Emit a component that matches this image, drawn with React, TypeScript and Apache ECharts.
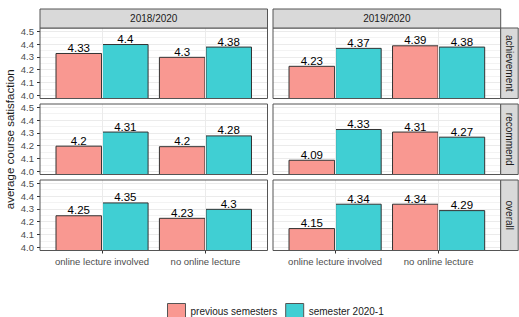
import React, { useEffect, useRef } from 'react';
import * as echarts from 'echarts';

const categories = ['online lecture involved', 'no online lecture'];
const periods = ['2018/2020', '2019/2020'];
const measures = ['achievement', 'recommend', 'overall'];
const seriesNames = ['previous semesters', 'semester 2020-1'];
const yTickMin = 4.0;
const yTickMax = 4.5;
const yTickStep = 0.1;

const prev1820Achievement = [4.33, 4.3];
const curr1820Achievement = [4.4, 4.38];
const prev1820Recommend = [4.2, 4.196];
const curr1820Recommend = [4.31, 4.28];
const prev1820Overall = [4.25, 4.23];
const curr1820Overall = [4.35, 4.3];
const prev1920Achievement = [4.23, 4.39];
const curr1920Achievement = [4.37, 4.38];
const prev1920Recommend = [4.09, 4.31];
const curr1920Recommend = [4.33, 4.27];
const prev1920Overall = [4.15, 4.34];
const curr1920Overall = [4.34, 4.29];

// [row][col] -> [prev, curr]
const facetData = [
  [[prev1820Achievement, curr1820Achievement], [prev1920Achievement, curr1920Achievement]],
  [[prev1820Recommend, curr1820Recommend], [prev1920Recommend, curr1920Recommend]],
  [[prev1820Overall, curr1820Overall], [prev1920Overall, curr1920Overall]],
];

const seriesColors = ['#F99891', '#40CFD3'];
const FONT = 'Liberation Sans, Arial, Helvetica, sans-serif';

const colLeft = [40, 273];
const colWidth = [227.5, 227.7];
const rowTop = [28, 104, 180];
const rowHeight = 70.5;
const stripTop = 9;
const stripH = 19;
const stripRightX = 500.7;
const stripRightW = 17.5;

function fmt(v: number) {
  return String(Math.round(v * 100) / 100);
}

export default function App() {
  const ref = useRef<HTMLDivElement>(null);
  useEffect(() => {
    if (!ref.current) return;
    const chart = echarts.init(ref.current, undefined, { renderer: 'svg' });
    const grids: any[] = [];
    const xAxes: any[] = [];
    const yAxes: any[] = [];
    const series: any[] = [];
    const graphics: any[] = [];
    const expandY = (yTickMax - yTickMin) * 0.05;
    const lo = yTickMin - expandY;
    const hi = yTickMax + expandY;

    for (let r = 0; r < 3; r++) {
      for (let c = 0; c < 2; c++) {
        const left = colLeft[c];
        const width = colWidth[c];
        const top = rowTop[r];
        const height = rowHeight;
        const padX = (width - width / 1.1) / 2;
        const insetY = (height * expandY) / (hi - lo);
        const gA = grids.length;
        grids.push({ left: left + padX, top, width: width - 2 * padX, height, containLabel: false });
        const gB = grids.length;
        grids.push({ left, top: top + insetY, width, height: height - 2 * insetY, containLabel: false });
        const bottomRow = r === 2;
        xAxes.push({
          type: 'category',
          gridIndex: gA,
          data: categories,
          axisLine: { show: false },
          axisTick: { show: bottomRow, alignWithLabel: true, length: 3, lineStyle: { color: '#333' } },
          axisLabel: {
            show: bottomRow,
            interval: 0,
            hideOverlap: false,
            color: '#4D4D4D',
            fontSize: 9.5,
            fontFamily: FONT,
            margin: 6,
          },
          splitLine: { show: false },
        });
        yAxes.push({ type: 'value', gridIndex: gA, min: lo, max: hi, show: false });
        xAxes.push({ type: 'category', gridIndex: gB, data: categories, show: false });
        yAxes.push({
          type: 'value',
          gridIndex: gB,
          min: yTickMin,
          max: yTickMax,
          interval: yTickStep,
          axisLine: { show: false },
          axisTick: { show: c === 0, length: 3, lineStyle: { color: '#333' } },
          axisLabel: {
            show: c === 0,
            color: '#4D4D4D',
            fontSize: 9.5,
            fontFamily: FONT,
            margin: 6,
            formatter: (v: number) => v.toFixed(1),
          },
          splitLine: { show: true, lineStyle: { color: '#EBEBEB', width: 1 } },
          minorTick: { show: false, splitNumber: 2 },
          minorSplitLine: { show: true, lineStyle: { color: '#F3F3F3', width: 1 } },
        });
        // vertical major grid lines at category centres
        series.push({
          type: 'line',
          name: 'grid',
          xAxisIndex: gA,
          yAxisIndex: gA,
          data: [],
          z: 1,
          silent: true,
          markLine: {
            silent: true,
            symbol: ['none', 'none'],
            label: { show: false },
            lineStyle: { color: '#EBEBEB', width: 1, type: 'solid' },
            emphasis: { disabled: true },
            data: categories.map((_, i) => ({ xAxis: i })),
          },
        });
        const vals = facetData[r][c];
        vals.forEach((arr, si) => {
          series.push({
            type: 'bar',
            name: seriesNames[si],
            xAxisIndex: gA,
            yAxisIndex: gA,
            data: arr,
            barWidth: '45%',
            barGap: '0%',
            z: 2,
            itemStyle: { color: seriesColors[si], borderColor: '#333', borderWidth: 1 },
            label: {
              show: true,
              position: 'top',
              distance: -1,
              color: '#000',
              fontSize: 11.5,
              fontFamily: FONT,
              formatter: (p: any) => fmt(p.value),
            },
            emphasis: { disabled: true },
          });
        });
        // panel border
        graphics.push({
          type: 'rect',
          shape: { x: left, y: top, width, height },
          style: { fill: 'none', stroke: '#555', lineWidth: 1 },
          z: 10,
          silent: true,
        });
      }
    }

    // top strips
    for (let c = 0; c < 2; c++) {
      graphics.push({
        type: 'rect',
        shape: { x: colLeft[c], y: stripTop, width: colWidth[c], height: stripH },
        style: { fill: '#D9D9D9', stroke: '#555', lineWidth: 1 },
        z: 10,
      });
      graphics.push({
        type: 'text',
        x: colLeft[c] + colWidth[c] / 2,
        y: stripTop + stripH / 2,
        style: { text: periods[c], fill: '#1A1A1A', fontSize: 10, fontFamily: FONT, align: 'center', verticalAlign: 'middle' },
        z: 11,
      });
    }
    // right strips
    for (let r = 0; r < 3; r++) {
      graphics.push({
        type: 'rect',
        shape: { x: stripRightX, y: rowTop[r], width: stripRightW, height: rowHeight },
        style: { fill: '#D9D9D9', stroke: '#555', lineWidth: 1 },
        z: 10,
      });
      graphics.push({
        type: 'text',
        x: stripRightX + stripRightW / 2,
        y: rowTop[r] + rowHeight / 2,
        rotation: -Math.PI / 2,
        style: { text: measures[r], fill: '#1A1A1A', fontSize: 10, fontFamily: FONT, align: 'center', verticalAlign: 'middle' },
        z: 11,
      });
    }
    // y title
    graphics.push({
      type: 'text',
      x: 10,
      y: (rowTop[0] + rowTop[2] + rowHeight) / 2,
      rotation: Math.PI / 2,
      style: { text: 'average course satisfaction', fill: '#1A1A1A', fontSize: 11.5, fontFamily: FONT, align: 'center', verticalAlign: 'middle' },
      z: 11,
    });

    chart.setOption({
      animation: false,
      backgroundColor: '#fff',
      grid: grids,
      xAxis: xAxes,
      yAxis: yAxes,
      series,
      legend: {
        data: seriesNames,
        left: 162,
        top: 298,
        itemWidth: 18,
        itemHeight: 15,
        itemGap: 8,
        icon: 'rect',
        textStyle: { color: '#1A1A1A', fontSize: 10, fontFamily: FONT },
        itemStyle: { borderColor: '#555', borderWidth: 1 },
        selectedMode: false,
      },
      graphic: graphics,
    });
    return () => chart.dispose();
  }, []);
  return <div ref={ref} style={{ position: 'fixed', left: 0, top: 0, width: 519, height: 317 }} />;
}
